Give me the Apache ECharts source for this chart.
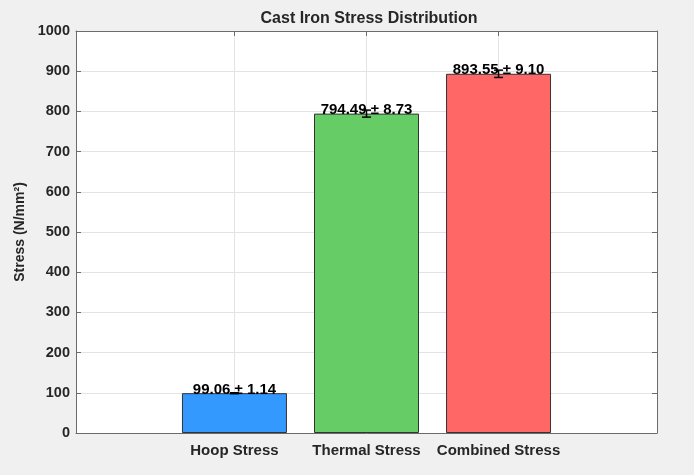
<!DOCTYPE html>
<html>
<head>
<meta charset="utf-8">
<script src="https://cdn.jsdelivr.net/npm/echarts@6/dist/echarts.min.js"></script>
<style>
  html, body { margin: 0; padding: 0; background: #f0f0f0; }
  #chart { width: 694px; height: 475px; }
</style>
</head>
<body>
<div id="chart"></div>
<script>
const categories = ['Hoop Stress', 'Thermal Stress', 'Combined Stress'];
const stressValues = [99.06, 794.49, 893.55];
const stressErrors = [1.14, 8.73, 9.10];
const barColors = ['#3399ff', '#66cc66', '#ff6666'];
const yTicks = [0, 100, 200, 300, 400, 500, 600, 700, 800, 900, 1000];
const xPositions = [1, 2, 3];

const chart = echarts.init(document.getElementById('chart'), null, { renderer: 'canvas' });

const font = 'Liberation Sans, Arial, Helvetica, sans-serif';
const frameColor = '#6b6b6b';
const textColor = '#262626';

const barData = stressValues.map((v, i) => ({
  value: [xPositions[i], v],
  itemStyle: { color: barColors[i] }
}));
const errData = stressValues.map((v, i) => [xPositions[i], v, stressErrors[i]]);

const option = {
  backgroundColor: '#f0f0f0',
  animation: false,
  title: {
    text: 'Cast Iron Stress Distribution',
    left: 364, top: 6, textAlign: 'center',
    textStyle: { fontFamily: font, fontSize: 16, fontWeight: 'bold', color: textColor }
  },
  grid: { left: 76, right: 37, top: 31, bottom: 42, containLabel: false, show: true, backgroundColor: '#ffffff', borderWidth: 0 },
  xAxis: [{
    type: 'value', min: -0.2, max: 4.2,
    axisLine: { show: true, onZero: false, lineStyle: { color: frameColor, width: 1 } },
    axisTick: { show: true, inside: true, length: 5, customValues: xPositions, lineStyle: { color: frameColor } },
    axisLabel: {
      show: true, customValues: xPositions, margin: 10,
      formatter: v => categories[xPositions.indexOf(v)] || '',
      fontFamily: font, fontSize: 15, fontWeight: 'bold', color: textColor
    },
    splitLine: { show: true, lineStyle: { color: '#e3e3e3', width: 1 } }
  }, {
    type: 'value', min: -0.2, max: 4.2, position: 'top',
    axisLine: { show: true, onZero: false, lineStyle: { color: frameColor, width: 1 } },
    axisTick: { show: true, inside: true, length: 5, customValues: xPositions, lineStyle: { color: frameColor } },
    axisLabel: { show: false },
    splitLine: { show: false }
  }],
  yAxis: [{
    type: 'value', min: 0, max: 1000, interval: 100,
    name: 'Stress (N/mm²)', nameLocation: 'middle', nameGap: 43, nameRotate: 90,
    nameTextStyle: { fontFamily: font, fontSize: 14, fontWeight: 'bold', color: textColor },
    axisLine: { show: true, onZero: false, lineStyle: { color: frameColor, width: 1 } },
    axisTick: { show: true, inside: true, length: 5, lineStyle: { color: frameColor } },
    axisLabel: {
      margin: 6, fontFamily: font, fontSize: 14.5, fontWeight: 'bold', color: textColor,
      formatter: v => yTicks.includes(v) ? String(v) : ''
    },
    splitLine: { show: true, lineStyle: { color: '#e3e3e3', width: 1 } }
  }, {
    type: 'value', min: 0, max: 1000, interval: 100, position: 'right',
    axisLine: { show: true, onZero: false, lineStyle: { color: frameColor, width: 1 } },
    axisTick: { show: true, inside: true, length: 5, lineStyle: { color: frameColor } },
    axisLabel: { show: false },
    splitLine: { show: false }
  }],
  series: [{
    type: 'bar',
    xAxisIndex: 0, yAxisIndex: 0,
    data: barData,
    barWidth: 105,
    itemStyle: { borderColor: '#333333', borderWidth: 1 },
    label: {
      show: true, position: 'top', distance: -4,
      formatter: p => stressValues[p.dataIndex].toFixed(2) + ' ± ' + stressErrors[p.dataIndex].toFixed(2),
      fontFamily: font, fontSize: 15, fontWeight: 'bold', color: '#000'
    },
    z: 2
  }, {
    type: 'custom',
    xAxisIndex: 0, yAxisIndex: 0,
    data: errData,
    z: 3,
    renderItem: (params, api) => {
      const x = api.value(0), y = api.value(1), e = api.value(2);
      const top = api.coord([x, y + e]);
      const bot = api.coord([x, y - e]);
      const hw = 4.5;
      const style = { stroke: '#000', lineWidth: 1.5 };
      return {
        type: 'group',
        children: [
          { type: 'line', shape: { x1: top[0], y1: top[1], x2: bot[0], y2: bot[1] }, style },
          { type: 'line', shape: { x1: top[0] - hw, y1: top[1], x2: top[0] + hw, y2: top[1] }, style },
          { type: 'line', shape: { x1: bot[0] - hw, y1: bot[1], x2: bot[0] + hw, y2: bot[1] }, style }
        ]
      };
    }
  }]
};
chart.setOption(option);
</script>
</body>
</html>
